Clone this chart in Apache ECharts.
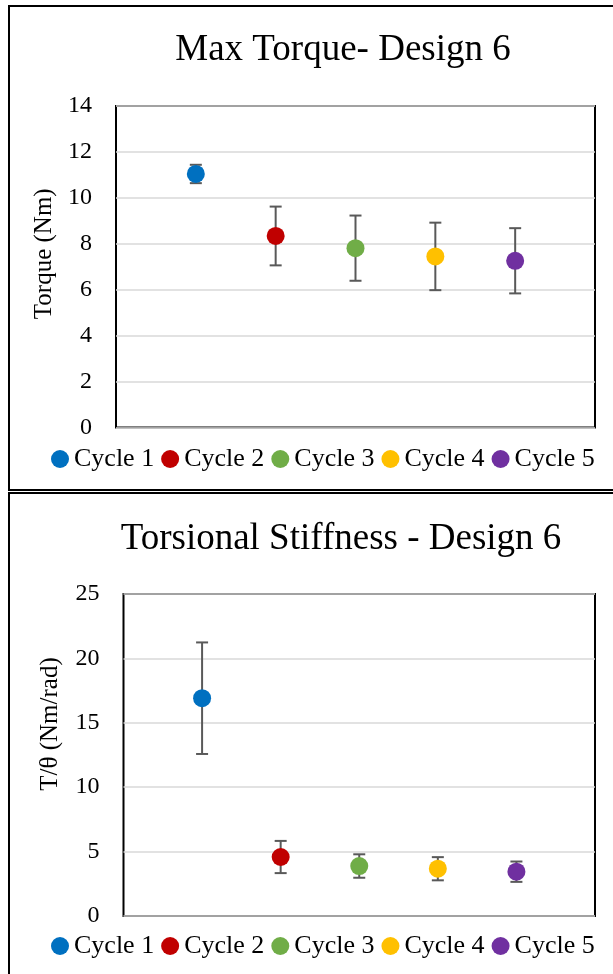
<!DOCTYPE html>
<html>
<head>
<meta charset="utf-8">
<script src="https://cdn.jsdelivr.net/npm/echarts@6/dist/echarts.min.js"></script>
<style>
html,body{margin:0;padding:0;background:#fff;}
#chart{width:613px;height:974px;}
</style>
</head>
<body>
<div id="chart"></div>
<script>
// ---- data ----
var cycles = ['Cycle 1', 'Cycle 2', 'Cycle 3', 'Cycle 4', 'Cycle 5'];
var xPos = [1, 2, 3, 4, 5];
var torqueMean = [11.04, 8.34, 7.81, 7.45, 7.26];
var torqueErr = [0.40, 1.28, 1.42, 1.47, 1.42];
var stiffMean = [16.91, 4.58, 3.88, 3.67, 3.44];
var stiffErr = [4.33, 1.25, 0.91, 0.90, 0.79];
var torqueTicks = [0, 2, 4, 6, 8, 10, 12, 14];
var stiffTicks = [0, 5, 10, 15, 20, 25];
var colors = ['#0070C0', '#C00000', '#70AD47', '#FFC000', '#7030A0'];

var FONT = '"Liberation Serif", "Times New Roman", serif';

function errSeries(mean, err, idx) {
  var data = mean.map(function (m, i) { return [xPos[i], m - err[i], m + err[i]]; });
  return {
    type: 'custom',
    xAxisIndex: idx, yAxisIndex: idx,
    silent: true,
    z: 1,
    data: data,
    renderItem: function (params, api) {
      var x = api.value(0);
      var lo = api.coord([x, api.value(1)]);
      var hi = api.coord([x, api.value(2)]);
      var hw = 6;
      var st = { stroke: '#595959', lineWidth: 2 };
      return {
        type: 'group',
        children: [
          { type: 'line', shape: { x1: lo[0], y1: lo[1], x2: hi[0], y2: hi[1] }, style: st },
          { type: 'line', shape: { x1: lo[0] - hw, y1: lo[1], x2: lo[0] + hw, y2: lo[1] }, style: st },
          { type: 'line', shape: { x1: hi[0] - hw, y1: hi[1], x2: hi[0] + hw, y2: hi[1] }, style: st }
        ]
      };
    }
  };
}

var series = [];
[torqueMean, stiffMean].forEach(function (means, g) {
  cycles.forEach(function (c, i) {
    series.push({
      type: 'scatter',
      name: c,
      xAxisIndex: g, yAxisIndex: g,
      symbol: 'circle',
      symbolSize: 18,
      z: 5,
      itemStyle: { color: colors[i], opacity: 1 },
      data: [[xPos[i], means[i]]]
    });
  });
});
series.push(errSeries(torqueMean, torqueErr, 0));
series.push(errSeries(stiffMean, stiffErr, 1));

function yAx(ticks, name, gap, pad, idx) {
  return {
    type: 'value', gridIndex: idx,
    min: ticks[0], max: ticks[ticks.length - 1], interval: ticks[1] - ticks[0],
    name: name, nameLocation: 'middle', nameGap: gap,
    nameTextStyle: { fontFamily: FONT, fontSize: 25, color: '#000', padding: pad },
    axisLine: { show: false }, axisTick: { show: false },
    axisLabel: { fontFamily: FONT, fontSize: 24, color: '#000', margin: 24 },
    splitLine: { lineStyle: { color: '#d9d9d9', width: 1.5 } }
  };
}
function xAx(idx) {
  return {
    type: 'value', gridIndex: idx, min: 0, max: 6,
    axisLine: { show: false }, axisTick: { show: false }, axisLabel: { show: false },
    splitLine: { show: false }
  };
}

var legendBase = {
  data: cycles,
  icon: 'circle',
  padding: 0,
  itemWidth: 18, itemHeight: 18, itemGap: 7,
  textStyle: { fontFamily: FONT, fontSize: 26, color: '#000' },
  selectedMode: false
};

var option = {
  backgroundColor: '#fff',
  animation: false,
  title: [
    { text: 'Max Torque- Design 6', left: 338, top: 27, textAlign: 'center',
      textStyle: { fontFamily: FONT, fontSize: 37, fontWeight: 'normal', color: '#000' } },
    { text: 'Torsional Stiffness - Design 6', left: 336, top: 516, textAlign: 'center',
      textStyle: { fontFamily: FONT, fontSize: 37, fontWeight: 'normal', color: '#000' } }
  ],
  grid: [
    { left: 116, top: 106, width: 479, height: 321.5, show: true, borderColor: '#000', borderWidth: 2, backgroundColor: 'transparent' },
    { left: 123.5, top: 594, width: 471.5, height: 322, show: true, borderColor: '#000', borderWidth: 2, backgroundColor: 'transparent' }
  ],
  xAxis: [xAx(0), xAx(1)],
  yAxis: [
    yAx(torqueTicks, 'Torque (Nm)', 43, [0, 0, 0, 26], 0),
    yAx(stiffTicks, 'T/θ (Nm/rad)', 61, [0, 0, 0, 62], 1)
  ],
  legend: [
    Object.assign({ left: 51, top: 446 }, legendBase),
    Object.assign({ left: 51, top: 933 }, legendBase)
  ],
  graphic: [
    { type: 'rect', shape: { x: 9, y: 6, width: 620, height: 484 }, style: { fill: 'none', stroke: '#000', lineWidth: 2 }, silent: true },
    { type: 'rect', shape: { x: 9, y: 493, width: 620, height: 500 }, style: { fill: 'none', stroke: '#000', lineWidth: 2 }, silent: true }
  ],
  series: series
};

var chart = echarts.init(document.getElementById('chart'), null, { renderer: 'canvas' });
chart.setOption(option);
</script>
</body>
</html>
